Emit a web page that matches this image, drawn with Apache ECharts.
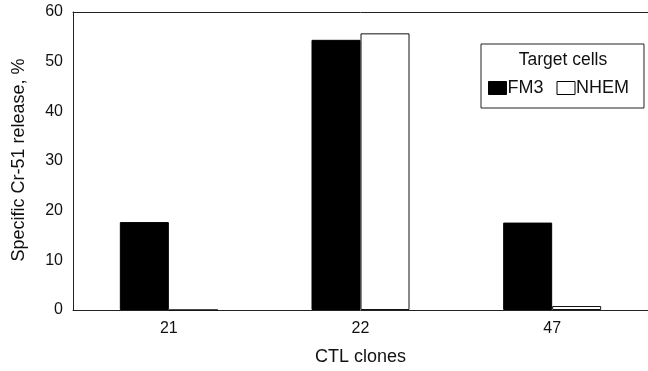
<!DOCTYPE html>
<html>
<head>
<meta charset="utf-8">
<script src="https://cdn.jsdelivr.net/npm/echarts@6/dist/echarts.min.js"></script>
<style>html,body{margin:0;padding:0;background:#fff}#c{width:648px;height:371px}</style>
</head>
<body>
<div id="c"></div>
<script>
var categories = ['21', '22', '47'];
var fm3 = [17.7, 54.4, 17.6];
var nhem = [0, 55.7, 0.8];
var yTicks = [0, 10, 20, 30, 40, 50, 60];

var FONT = '"Liberation Sans", Arial, Helvetica, sans-serif';
var chart = echarts.init(document.getElementById('c'), null, {renderer: 'canvas'});
chart.setOption({
  animation: false,
  backgroundColor: '#fff',
  grid: {left: 73, top: 12, bottom: 60, right: -4, show: false},
  xAxis: [{
    type: 'category',
    data: categories,
    axisLine: {show: true, lineStyle: {color: '#222', width: 1}},
    axisTick: {show: false},
    axisLabel: {color: '#111', fontSize: 16, fontFamily: FONT, margin: 11},
    name: 'CTL clones',
    nameLocation: 'middle',
    nameGap: 38,
    nameTextStyle: {color: '#111', fontSize: 18, fontFamily: FONT},
    splitLine: {show: false}
  }, {
    type: 'category',
    position: 'top',
    data: categories,
    axisLine: {show: true, lineStyle: {color: '#222', width: 1}},
    axisTick: {show: false},
    axisLabel: {show: false},
    splitLine: {show: false}
  }],
  yAxis: {
    type: 'value',
    min: yTicks[0],
    max: yTicks[yTicks.length - 1],
    interval: 10,
    axisLine: {show: true, lineStyle: {color: '#222', width: 1}},
    axisTick: {show: false},
    splitLine: {show: false},
    axisLabel: {color: '#111', fontSize: 16, fontFamily: FONT, margin: 10}
  },
  legend: {
    left: 481,
    top: 44,
    padding: [35, 15, 11, 7],
    borderColor: '#222',
    borderWidth: 1,
    itemWidth: 18,
    itemHeight: 13,
    itemGap: 13,
    textStyle: {color: '#111', fontSize: 18, fontFamily: FONT, padding: [0, 0, 0, -4]},
    data: [
      {name: 'FM3', icon: 'rect', itemStyle: {color: '#000', borderColor: '#000', borderWidth: 1}},
      {name: 'NHEM', icon: 'rect', itemStyle: {color: '#fff', borderColor: '#000', borderWidth: 1}}
    ]
  },
  graphic: [
    {type: 'text', x: 563, y: 60, style: {text: 'Target cells', fill: '#111', font: '17.5px ' + FONT, textAlign: 'center', textVerticalAlign: 'middle'}},
    {type: 'text', x: 19, y: 160, rotation: Math.PI / 2,
      style: {text: 'Specific Cr-51 release, %', fill: '#111', font: '18px ' + FONT, textAlign: 'center', textVerticalAlign: 'middle'}}
  ],
  series: [
    {name: 'FM3', type: 'bar', data: fm3, barWidth: 49, barGap: '0%',
      itemStyle: {color: '#000', borderColor: '#000', borderWidth: 1}},
    {name: 'NHEM', type: 'bar', data: nhem, barWidth: 49, barGap: '0%',
      itemStyle: {color: '#fff', borderColor: '#111', borderWidth: 1}}
  ]
});
</script>
</body>
</html>
